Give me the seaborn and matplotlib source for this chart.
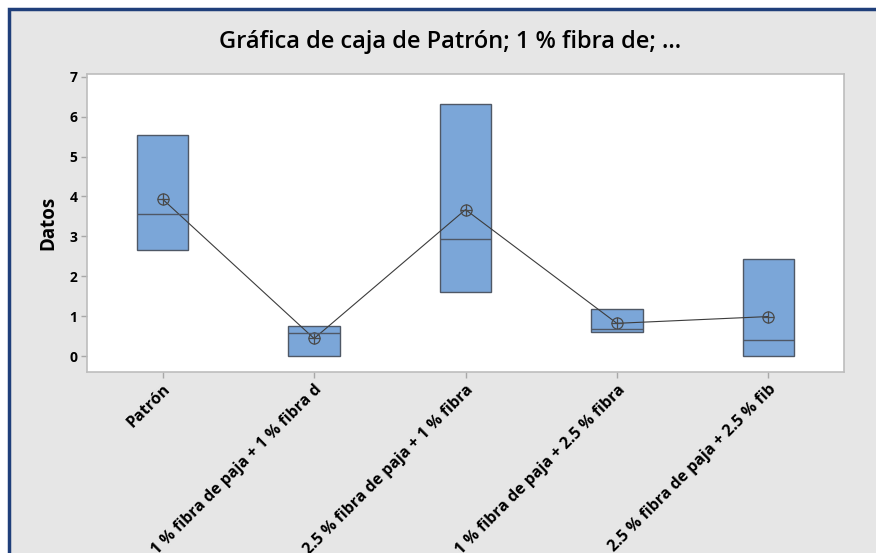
import pandas as pd
import seaborn as sns
import matplotlib.pyplot as plt
from matplotlib.patches import Rectangle

categories = ["Patrón",
              "1 % fibra de paja + 1 % fibra d",
              "2.5 % fibra de paja + 1 % fibra",
              "1 % fibra de paja + 2.5 % fibra",
              "2.5 % fibra de paja + 2.5 % fib"]
q1 = [2.66, 0.0, 1.61, 0.60, 0.0]
medians = [3.55, 0.57, 2.94, 0.67, 0.40]
q3 = [5.53, 0.76, 6.33, 1.17, 2.44]
means = [3.93, 0.44, 3.67, 0.82, 0.99]

# rebuild each box from its quartiles (no whiskers shown in the reference)
rows = []
for cat, a, m, b in zip(categories, q1, medians, q3):
    for v in [a, a, m, b, b]:
        rows.append({"Grupo": cat, "Datos": v})
box_df = pd.DataFrame(rows)
mean_df = pd.DataFrame({"Grupo": categories, "Datos": means})

sns.set_style("white")
plt.rcParams['font.family'] = ['Open Sans', 'DejaVu Sans']
plt.rcParams['text.color'] = 'black'
plt.rcParams['axes.labelcolor'] = 'black'
plt.rcParams['xtick.color'] = 'black'
plt.rcParams['ytick.color'] = 'black'

fig = plt.figure(figsize=(8.76, 5.53), dpi=100)
fig.patch.set_facecolor('#E6E6E6')
ax = fig.add_axes([87 / 876, 1 - 372 / 553, 757 / 876, 298 / 553])
ax.set_facecolor('white')

edge = '#4F5866'
sns.boxplot(data=box_df, x="Grupo", y="Datos", order=categories, ax=ax,
            color='#7BA6D8', width=0.34, showcaps=False, showfliers=False, whis=0,
            boxprops=dict(facecolor='#7BA6D8', edgecolor=edge, linewidth=1.0),
            medianprops=dict(color=edge, linewidth=1.0),
            whiskerprops=dict(color=edge, linewidth=0), saturation=1)

sns.pointplot(data=mean_df, x="Grupo", y="Datos", order=categories, ax=ax,
              errorbar=None, color='#3C3C3C', marker='o', markersize=8,
              markerfacecolor='none', markeredgecolor='#4A4A4A', markeredgewidth=0.9,
              linewidth=0.8)
sns.pointplot(data=mean_df, x="Grupo", y="Datos", order=categories, ax=ax,
              errorbar=None, color='#4A4A4A', marker='+', markersize=8,
              markeredgewidth=0.9, linestyle='none')

ax.set_xlim(-0.5, 4.5)
ax.set_ylim(-0.40, 7.07)
ax.set_yticks(range(0, 8))
ax.set_xlabel("")
ax.set_ylabel("Datos", fontsize=13.5, fontweight='bold', labelpad=8)

for s in ax.spines.values():
    s.set_visible(True)
    s.set_color('#BDBDBD')
    s.set_linewidth(1.2)

ax.tick_params(axis='both', which='major', length=4, width=1, color='#A8A8A8',
               labelcolor='black', labelsize=10, pad=3, bottom=True, left=True)
for lbl in ax.get_yticklabels():
    lbl.set_fontweight('bold')
ax.set_xticks(range(len(categories)))
ax.set_xticklabels(categories, rotation=45, ha='right', rotation_mode='anchor',
                   fontsize=11.5, fontweight='bold')

fig.text(450 / 876, 1 - 42 / 553, "Gráfica de caja de Patrón; 1 % fibra de; ...",
         ha='center', va='center', fontsize=17, fontweight='semibold', color='black')

# dark blue frame at top and left
fig.patches.append(Rectangle((9 / 876, -0.1), 1.2, 1.1 - 9 / 553, transform=fig.transFigure,
                             fill=False, edgecolor='#1F3F7A', linewidth=2.5, zorder=10))
fig.patches.append(Rectangle((0, 1 - 8 / 553), 1, 8 / 553, transform=fig.transFigure,
                             facecolor='white', edgecolor='none', zorder=9))
fig.patches.append(Rectangle((0, 0), 8 / 876, 1, transform=fig.transFigure,
                             facecolor='white', edgecolor='none', zorder=9))

fig.savefig("out.png", dpi=100)
